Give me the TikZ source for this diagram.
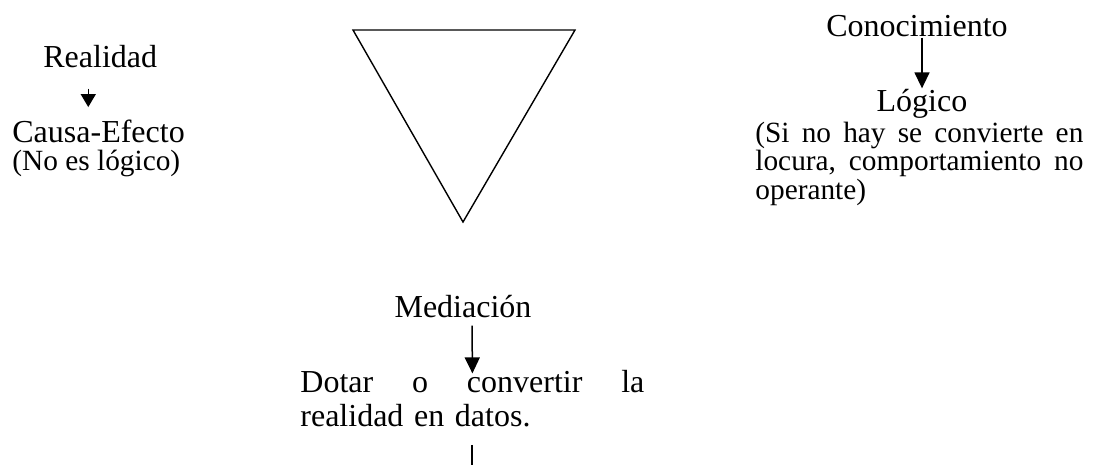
\documentclass[tikz,border=0pt]{standalone}
\usepackage{fontspec}
\setmainfont{Liberation Serif}
\usetikzlibrary{arrows.meta}
\newcommand{\jline}[2]{\makebox[#1][l]{#2}}
\begin{document}
\begin{tikzpicture}[x=0.5pt,y=-0.5pt,
  big/.style={inner sep=0pt,font=\fontsize{16}{17}\selectfont},
  small/.style={inner sep=0pt,font=\fontsize{14.67}{14.3}\selectfont},
  arr/.style={line width=0.75pt,-{Triangle[width=7.5pt,length=8pt]}},
  arrs/.style={line width=0.75pt,-{Triangle[width=7.5pt,length=6.5pt]}},
  tri/.style={line width=0.7pt,line join=miter}]
\useasboundingbox (0,0) rectangle (1112,465);
% left
\node[big,anchor=base west] (real) at (43,68) {Realidad};
\node[big,anchor=base west] (causa) at (12,142) {Causa-Efecto};
\node[small,anchor=base west] (nolog) at (12,170) {(No es lógico)};
\draw[arrs,shorten <=10pt,shorten >=6pt] ([xshift=-6pt]real.south) -- ([xshift=-6pt]real.south |- causa.north);
% triangle
\draw[tri] (353,30) -- (575,30) -- (463,222) -- cycle;
% right
\node[big,anchor=base] (cono) at (917,37) {Conocimiento};
\node[big,anchor=base] (logi) at (922,112) {Lógico};
\node[small,anchor=base west,text width=164pt,align=left] (sino) at (755,142)
  {\jline{164pt}{(Si\hfill no\hfill hay\hfill se\hfill convierte\hfill en}\\
   \jline{164pt}{locura,\hfill comportamiento\hfill no}\\
   operante)};
\draw[arr,shorten >=0.5pt] ([xshift=2.5pt]cono.south) -- (logi.north);
% bottom
\node[big,anchor=base] (medi) at (463,317) {Mediación};
\node[big,anchor=base west,text width=172pt,align=left] (dotar) at (300,392)
  {\jline{172pt}{Dotar\hfill o\hfill convertir\hfill la}\\
   realidad en datos.};
\coordinate (bot) at (472,465);
\draw[arr,shorten <=4pt] ([xshift=4.5pt]medi.south) -- ([yshift=-2pt]dotar.north);
\draw[line width=0.75pt] ([yshift=-9pt]bot |- dotar.south) -- (bot);
\end{tikzpicture}
\end{document}
